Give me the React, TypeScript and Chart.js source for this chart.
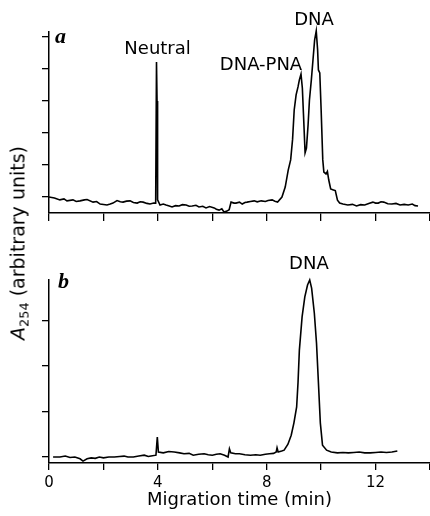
import React, { useEffect, useRef } from 'react';
import { Chart, registerables } from 'chart.js';

Chart.register(...registerables);

const FONT = "'DejaVu Sans', sans-serif";

// Panel a: migration time (min) and A254 signal (arbitrary units, 1 unit = 1 y tick)
const timeA = [
  0.0, 0.2, 0.4, 0.55, 0.66, 0.88, 1.0, 1.14, 1.3, 1.4, 1.62, 1.75, 1.88, 2.13, 2.25, 2.35, 2.5, 2.62, 2.72, 2.85,
  2.98, 3.1, 3.24, 3.35, 3.46, 3.6, 3.71, 3.85, 3.92, 3.95, 3.97, 3.99, 4.08, 4.2, 4.3, 4.42, 4.52, 4.65, 4.78, 4.9,
  5.04, 5.15, 5.26, 5.4, 5.51, 5.65, 5.77, 5.9, 6.07, 6.15, 6.25, 6.35, 6.43, 6.54, 6.62, 6.69, 6.8, 6.87, 7.0, 7.1,
  7.2, 7.28, 7.4, 7.54, 7.65, 7.8, 7.95, 8.05, 8.2, 8.3, 8.4, 8.56, 8.68, 8.79, 8.88, 8.95, 9.01, 9.08, 9.15, 9.2,
  9.26, 9.31, 9.35, 9.41, 9.46, 9.52, 9.57, 9.64, 9.7, 9.76, 9.82, 9.87, 9.9, 9.95, 10.0, 10.06, 10.1, 10.18, 10.23, 10.28,
  10.35, 10.45, 10.52, 10.6, 10.68, 10.8, 10.98, 11.15, 11.3, 11.45, 11.6, 11.75, 11.9, 12.0, 12.1, 12.2, 12.3, 12.45, 12.6, 12.75,
  12.9, 13.05, 13.2, 13.35, 13.45, 13.56,
];
const signalA = [
  0.0, -0.03, -0.09, -0.06, -0.12, -0.09, -0.14, -0.12, -0.09, -0.08, -0.16, -0.14, -0.22, -0.25, -0.22, -0.19, -0.11, -0.15, -0.16, -0.13,
  -0.12, -0.17, -0.19, -0.15, -0.16, -0.2, -0.22, -0.19, -0.19, 4.22, 3.0, -0.09, -0.25, -0.22, -0.25, -0.28, -0.31, -0.27, -0.28, -0.24,
  -0.25, -0.29, -0.28, -0.26, -0.31, -0.29, -0.34, -0.3, -0.34, -0.38, -0.41, -0.37, -0.47, -0.44, -0.4, -0.16, -0.19, -0.19, -0.16, -0.22,
  -0.17, -0.16, -0.14, -0.12, -0.15, -0.12, -0.14, -0.11, -0.09, -0.13, -0.16, 0.0, 0.31, 0.84, 1.16, 1.8, 2.72, 3.19, 3.44, 3.66,
  3.84, 3.4, 2.6, 1.38, 1.53, 2.25, 3.03, 3.66, 4.28, 4.9, 5.19, 4.6, 3.97, 3.88, 2.72, 1.16, 0.78, 0.72, 0.8, 0.53,
  0.25, 0.22, 0.2, -0.1, -0.19, -0.22, -0.25, -0.23, -0.28, -0.24, -0.25, -0.2, -0.16, -0.19, -0.19, -0.15, -0.16, -0.21, -0.22, -0.2,
  -0.25, -0.23, -0.25, -0.22, -0.27, -0.28,
];

// Panel b
const timeB = [
  0.15, 0.4, 0.6, 0.77, 0.95, 1.14, 1.25, 1.4, 1.55, 1.7, 1.85, 2.0, 2.2, 2.4, 2.6, 2.76, 2.9, 3.1, 3.3, 3.5,
  3.65, 3.75, 3.93, 3.98, 4.02, 4.2, 4.4, 4.6, 4.8, 4.96, 5.15, 5.3, 5.5, 5.7, 5.85, 6.0, 6.15, 6.29, 6.45, 6.58,
  6.63, 6.68, 6.85, 7.0, 7.2, 7.4, 7.6, 7.76, 7.95, 8.1, 8.25, 8.35, 8.38, 8.42, 8.55, 8.64, 8.78, 8.9, 9.0, 9.1,
  9.15, 9.2, 9.3, 9.4, 9.5, 9.58, 9.65, 9.75, 9.83, 9.9, 9.97, 10.05, 10.2, 10.37, 10.6, 10.8, 11.0, 11.2, 11.4, 11.6,
  11.8, 12.0, 12.2, 12.4, 12.6, 12.8,
];
const signalB = [
  0.0, 0.0, 0.02, -0.01, 0.0, -0.04, -0.09, -0.04, -0.02, -0.03, 0.0, -0.02, 0.0, 0.0, 0.01, 0.02, 0.0, 0.0, 0.02, 0.04,
  0.01, 0.02, 0.04, 0.44, 0.11, 0.09, 0.12, 0.11, 0.09, 0.07, 0.08, 0.04, 0.06, 0.07, 0.05, 0.04, 0.06, 0.07, 0.04, 0.0,
  0.18, 0.09, 0.07, 0.07, 0.05, 0.04, 0.05, 0.04, 0.06, 0.07, 0.08, 0.11, 0.2, 0.11, 0.13, 0.15, 0.28, 0.48, 0.75, 1.1,
  1.63, 2.35, 3.08, 3.52, 3.78, 3.89, 3.71, 3.16, 2.5, 1.63, 0.75, 0.26, 0.15, 0.11, 0.09, 0.1, 0.09, 0.1, 0.11, 0.09,
  0.09, 0.1, 0.11, 0.1, 0.11, 0.13,
];

const xTicks = [0, 2, 4, 6, 8, 10, 12, 14];
const xTickLabels = ['0', '', '4', '', '8', '', '12', ''];
const yTicksA = [0, 1, 2, 3, 4, 5];
const yTicksB = [0, 1, 2, 3];

const peakLabelsA = ['Neutral', 'DNA-PNA', 'DNA'];
const peakTimesA = [3.99, 7.79, 9.74];
const peakLevelsA = [4.6, 4.13, 5.53];
const peakLabelsB = ['DNA'];
const peakTimesB = [9.55];
const peakLevelsB = [4.24];
const panelLetters = ['a', 'b'];
const letterTimes = [0.22, 0.33];
const letterLevels = [4.81, 3.71];

const textPlugin = {
  id: 'peakText',
  afterDraw(chart: any, _args: any, opts: any) {
    const { ctx, scales } = chart;
    const xs = scales.x;
    const ys = scales.y;
    ctx.save();
    ctx.fillStyle = '#000';
    ctx.font = `18px ${FONT}`;
    ctx.textAlign = 'center';
    ctx.textBaseline = 'middle';
    opts.texts.forEach((t: string, i: number) => {
      ctx.fillText(t, xs.getPixelForValue(opts.times[i]), ys.getPixelForValue(opts.levels[i]));
    });
    ctx.font = "italic bold 22px 'Liberation Serif', serif";
    ctx.textAlign = 'left';
    ctx.textBaseline = 'alphabetic';
    ctx.fillText(opts.letter, xs.getPixelForValue(opts.letterTime), ys.getPixelForValue(opts.letterLevel));
    ctx.restore();
  },
};

function axisGrid(len: number) {
  return { drawOnChartArea: false, drawTicks: true, tickLength: len, color: '#000', lineWidth: 1.3 };
}

function makeConfig(panel: 'a' | 'b'): any {
  const isA = panel === 'a';
  const times = isA ? timeA : timeB;
  const sig = isA ? signalA : signalB;
  const yt = isA ? yTicksA : yTicksB;
  return {
    type: 'line',
    data: {
      datasets: [
        {
          data: times.map((t, i) => ({ x: t, y: sig[i] })),
          borderColor: '#000',
          borderWidth: 1.6,
          pointRadius: 0,
          tension: 0,
          fill: false,
          clip: false,
        },
      ],
    },
    plugins: [textPlugin],
    options: {
      animation: false,
      responsive: false,
      events: [],
      layout: { padding: { top: isA ? 32 : 40, right: 4, left: 0, bottom: 0 } },
      plugins: {
        legend: { display: false },
        tooltip: { enabled: false },
        peakText: {
          texts: isA ? peakLabelsA : peakLabelsB,
          times: isA ? peakTimesA : peakTimesB,
          levels: isA ? peakLevelsA : peakLevelsB,
          letter: isA ? panelLetters[0] : panelLetters[1],
          letterTime: isA ? letterTimes[0] : letterTimes[1],
          letterLevel: isA ? letterLevels[0] : letterLevels[1],
        },
      },
      scales: {
        x: {
          type: 'linear',
          min: 0,
          max: 14,
          afterBuildTicks: (s: any) => {
            s.ticks = xTicks.map((v) => ({ value: v }));
          },
          afterFit: (s: any) => {
            s.height = isA ? 13 : 53;
          },
          ticks: {
            display: !isA,
            autoSkip: false,
            maxRotation: 0,
            padding: 4,
            color: '#000',
            font: { family: FONT, size: 15 },
            callback: (v: number) => xTickLabels[xTicks.indexOf(v)] ?? '',
          },
          grid: axisGrid(isA ? 8 : 7),
          border: { display: true, color: '#000', width: 1.5 },
          title: {
            display: !isA,
            text: 'Migration time (min)',
            color: '#000',
            font: { family: FONT, size: 18 },
            padding: { top: 0, bottom: 5 },
          },
        },
        y: {
          type: 'linear',
          min: isA ? -0.5 : -0.132,
          max: isA ? 5.156 : 3.89,
          afterBuildTicks: (s: any) => {
            s.ticks = yt.map((v) => ({ value: v }));
          },
          afterFit: (s: any) => {
            s.width = 49;
          },
          ticks: { display: false },
          grid: axisGrid(7),
          border: { display: true, color: '#000', width: 1.5 },
        },
      },
    },
  };
}

export default function App() {
  const refA = useRef<HTMLCanvasElement>(null);
  const refB = useRef<HTMLCanvasElement>(null);

  useEffect(() => {
    const ca = new Chart(refA.current as HTMLCanvasElement, makeConfig('a'));
    const cb = new Chart(refB.current as HTMLCanvasElement, makeConfig('b'));
    return () => {
      ca.destroy();
      cb.destroy();
    };
  }, []);

  return (
    <div
      style={{
        position: 'fixed',
        left: 0,
        top: 0,
        width: 430,
        height: 516,
        overflow: 'hidden',
        background: '#fff',
      }}
    >
      <canvas ref={refA} width={434} height={226} style={{ position: 'absolute', left: 0, top: 0, display: 'block' }} />
      <canvas ref={refB} width={434} height={276} style={{ position: 'absolute', left: 0, top: 240, display: 'block' }} />
      <div
        style={{
          position: 'absolute',
          left: 18,
          top: 243,
          transform: 'translate(-50%, -50%) rotate(-90deg)',
          whiteSpace: 'nowrap',
          fontFamily: FONT,
          fontSize: 19,
          lineHeight: 1,
          color: '#000',
        }}
      >
        <span style={{ fontStyle: 'italic' }}>A</span>
        <span style={{ fontSize: '0.68em', position: 'relative', top: '0.3em' }}>254</span> (arbitrary units)
      </div>
    </div>
  );
}
